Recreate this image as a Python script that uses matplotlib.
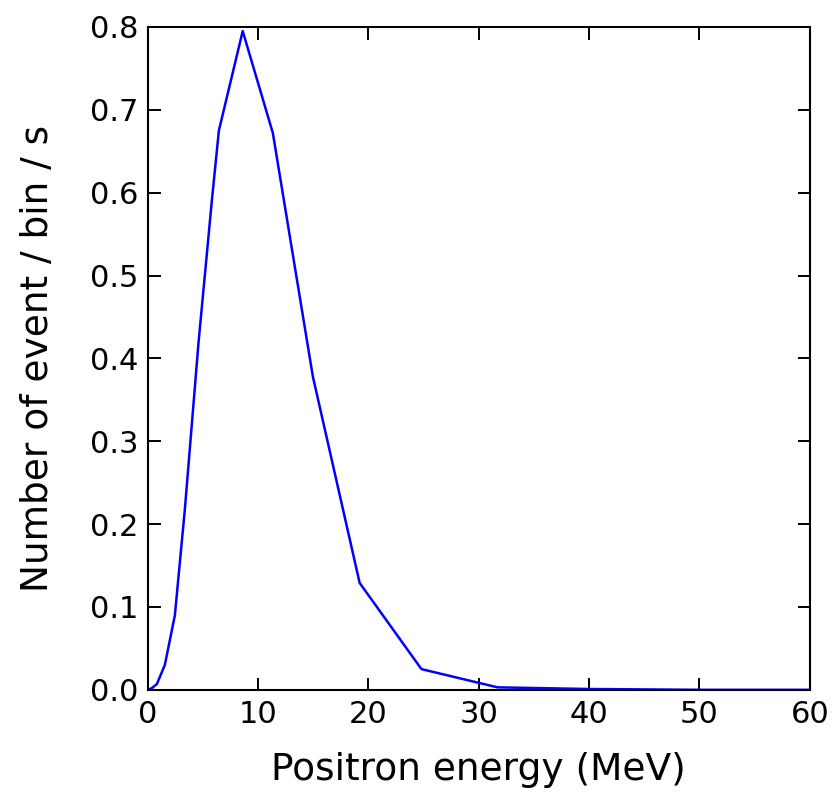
import matplotlib
matplotlib.use("Agg")
import matplotlib.pyplot as plt

# Positron energy spectrum
energy = [0.0, 0.36, 0.82, 1.54, 2.45, 3.35, 4.6, 5.8, 6.44, 8.6,
          11.33, 14.96, 19.2, 24.8, 31.7, 40.0, 50.0, 60.0]
rate = [0.0, 0.002, 0.007, 0.030, 0.090, 0.217, 0.42, 0.59, 0.675, 0.795,
        0.672, 0.378, 0.129, 0.025, 0.003, 0.001, 0.0, 0.0]

fig = plt.figure(figsize=(8.4, 7.92), dpi=100)
ax = fig.add_axes([0.176, 0.129, 0.788, 0.837])
ax.plot(energy, rate, 'b-', linewidth=1.8)

ax.set_xlim(0, 60)
ax.set_ylim(0, 0.8)
ax.set_xticks(range(0, 61, 10))
ax.set_yticks([i / 10 for i in range(0, 9)])
ax.tick_params(direction='in', top=True, right=True, length=9, width=1.4,
               labelsize=22, pad=7)
for s in ax.spines.values():
    s.set_linewidth(1.5)

ax.set_xlabel('Positron energy (MeV)', fontsize=27, labelpad=17)
ax.set_ylabel('Number of event / bin / s', fontsize=27, labelpad=24)

fig.savefig('out.png', dpi=100)
